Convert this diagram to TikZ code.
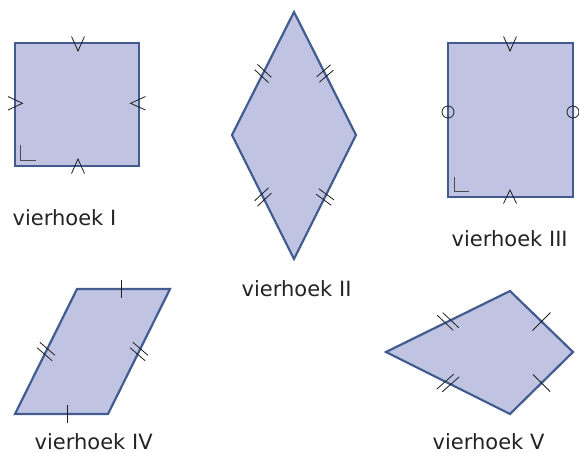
\documentclass[tikz,border=0pt]{standalone}
\usepackage{fontspec}
\setmainfont{DejaVu Sans}
\usetikzlibrary{calc}
\definecolor{shapefill}{RGB}{192,196,226}
\definecolor{shapeedge}{RGB}{66,92,144}
\definecolor{markcol}{RGB}{30,30,30}
\definecolor{txtcol}{RGB}{35,35,35}
\tikzset{
  quad/.style={fill=shapefill,draw=shapeedge,line width=2.2pt,line join=miter},
  tk/.style={draw=markcol,line width=0.8pt},
  rang/.style={draw=markcol!80,line width=1pt},
  lbl/.style={anchor=base west,inner sep=0pt,text=txtcol,font=\fontsize{21}{25}\selectfont}
}
\newcommand{\dtk}[4]{%
  \draw[tk] ($(#1)!0.478!(#2)+(#3,#4)$) -- ($(#1)!0.478!(#2)-(#3,#4)$);
  \draw[tk] ($(#1)!0.522!(#2)+(#3,#4)$) -- ($(#1)!0.522!(#2)-(#3,#4)$);}
\newcommand{\stk}[4]{%
  \draw[tk] ($(#1)!0.5!(#2)+(#3,#4)$) -- ($(#1)!0.5!(#2)-(#3,#4)$);}
\begin{document}
\begin{tikzpicture}[x=1pt,y=-1pt]
\useasboundingbox (0,0) rectangle (579,453);
\fill[white] (0,0) rectangle (579,453);
% ---------- vierhoek I (square)
\coordinate (s1) at (15,43);
\coordinate (s2) at (139,43);
\coordinate (s3) at (139,166);
\coordinate (s4) at (15,166);
\draw[quad] (s1) -- (s2) -- (s3) -- (s4) -- cycle;
\draw[tk] (71.5,36.5) -- (78,51) -- (84.5,36.5);
\draw[tk] (71.5,173.5) -- (78,159) -- (84.5,173.5);
\draw[tk] (8,96.5) -- (22.5,103.3) -- (8,110);
\draw[tk] (145.5,96.5) -- (130.5,103.3) -- (145.5,110);
\draw[rang] (20.5,145) -- (20.5,160.5) -- (36,160.5);
\node[lbl] (l1) at (12.5,225) {vierhoek I};
% ---------- vierhoek II (rhombus)
\coordinate (r1) at (294,12);
\coordinate (r2) at (356,135);
\coordinate (r3) at (294,259);
\coordinate (r4) at (232,135);
\draw[quad] (r1) -- (r2) -- (r3) -- (r4) -- cycle;
\dtk{r1}{r4}{7}{6.5}
\dtk{r1}{r2}{7}{-6}
\dtk{r4}{r3}{7}{-6.5}
\dtk{r2}{r3}{7.5}{5.5}
\node[lbl] (l2) at (241.5,296) {vierhoek II};
% ---------- vierhoek III (rectangle)
\coordinate (q1) at (448,43);
\coordinate (q2) at (573,43);
\coordinate (q3) at (573,197);
\coordinate (q4) at (448,197);
\draw[quad] (q1) -- (q2) -- (q3) -- (q4) -- cycle;
\draw[tk] (503.5,36.5) -- (510,51) -- (516.5,36.5);
\draw[tk] (503.5,203.5) -- (510,190) -- (516.5,203.5);
\draw[tk] (448,112) circle[radius=6];
\draw[tk] (573,112) circle[radius=6];
\draw[rang] (454,177) -- (454,191) -- (469,191);
\node[lbl] (l3) at (451.5,246) {vierhoek III};
% ---------- vierhoek IV (parallelogram)
\coordinate (p1) at (77,289);
\coordinate (p2) at (170,289);
\coordinate (p3) at (108,414);
\coordinate (p4) at (15,414);
\draw[quad] (p1) -- (p2) -- (p3) -- (p4) -- cycle;
\draw[tk] (121,280) -- (121,298);
\draw[tk] (67,404.5) -- (67,423);
\dtk{p1}{p4}{7.5}{6.5}
\dtk{p2}{p3}{7.5}{6.5}
\node[lbl] (l4) at (34.5,449) {vierhoek IV};
% ---------- vierhoek V (kite)
\coordinate (k1) at (386,352);
\coordinate (k2) at (510,291);
\coordinate (k3) at (573,352);
\coordinate (k4) at (510,414);
\draw[quad] (k1) -- (k2) -- (k3) -- (k4) -- cycle;
\dtk{k1}{k2}{8}{7.5}
\dtk{k1}{k4}{8.5}{-7.5}
\stk{k2}{k3}{9}{-9}
\stk{k4}{k3}{8.5}{8.5}
\node[lbl] (l5) at (432.5,449) {vierhoek V};
\end{tikzpicture}
\end{document}
